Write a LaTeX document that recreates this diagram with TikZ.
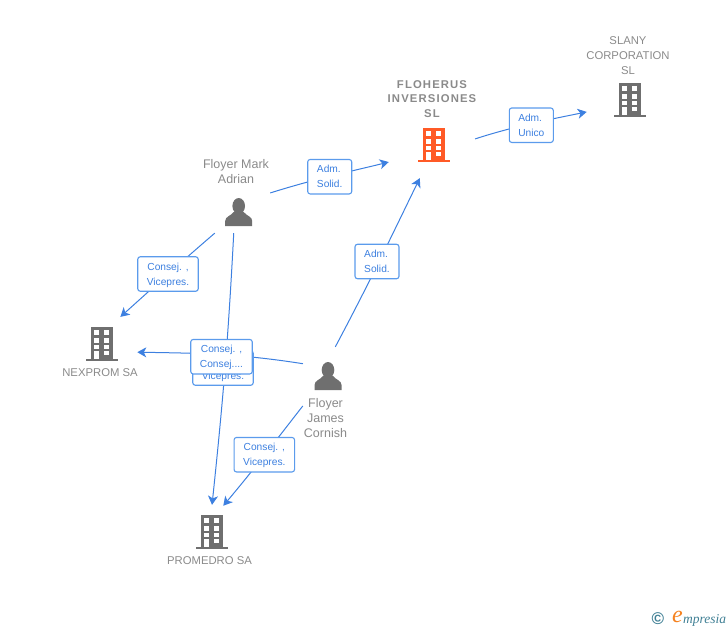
\documentclass[tikz,border=0pt]{standalone}
\usepackage{fontspec}
\setmainfont{Liberation Sans}
\newfontfamily\LabelBold[LetterSpace=10]{Liberation Sans Bold}
\newfontfamily\LogoFont{Liberation Serif}
\usetikzlibrary{arrows.meta}
\definecolor{IconGray}{HTML}{6F6F6F}
\definecolor{IconOrange}{HTML}{FF5A26}
\definecolor{TextGray}{HTML}{8A8A8A}
\definecolor{LinkBlue}{HTML}{3D80E0}
\definecolor{BoxBlue}{HTML}{5B9BEC}
\definecolor{LogoTeal}{HTML}{3F7F94}
\definecolor{LogoOrange}{HTML}{F58220}
\tikzset{
    iconspot/.style={circle,inner sep=0pt,minimum size=40pt},
    link/.style 2 args={draw=LinkBlue,line width=1pt,shorten <=#1pt,shorten >=#2pt,
        -{Stealth[length=9pt,width=10pt,inset=2.5pt]}},
    linkbox/.style={draw=BoxBlue,line width=1.1pt,fill=white,rounded corners=2.5pt,
        minimum height=34.5pt,inner sep=0pt,align=center,text=LinkBlue,text depth=0pt,
        font=\fontsize{10.2}{15}\selectfont},
    wide/.style={minimum width=60.5pt},
    narrow/.style={minimum width=44pt,align=left},
    companytext/.style={text=TextGray,align=center,inner sep=0pt,
        font=\fontsize{11.3}{14.8}\selectfont},
    persontext/.style={text=TextGray,align=center,inner sep=0pt,
        font=\fontsize{12.5}{15}\selectfont},
}
\newcommand\BuildingIcon[4]{%
    \node[iconspot] (#1) at (#2,#3) {};
    \begin{scope}[shift={(#2,#3)}]
        \fill[#4] (-16,15) rectangle (16,17);
        \fill[#4] (-11,-17) rectangle (11,15.5);
        \foreach \wy/\wh in {-13.7/-8.7,-6/-1.3,0.7/5.3} {
            \fill[white] (-7.7,\wy) rectangle (-2.7,\wh);
            \fill[white] (2,\wy) rectangle (7,\wh);
        }
        \fill[white] (-7.7,7) rectangle (-2.7,15); % door
        \fill[white] (2,7) rectangle (7,11);
    \end{scope}
}
\newcommand\PersonIcon[3]{%
    \node[iconspot] (#1) at (#2,#3) {};
    \begin{scope}[shift={(#2,#3)}]
        \fill[IconGray] (0,-6) ellipse [x radius=6.3,y radius=8];
        \fill[IconGray] (-13.5,14) -- (-13.5,9) .. controls (-13.5,4.5) and (-8,4) .. (-5,0)
            -- (5,0) .. controls (8,4) and (13.5,4.5) .. (13.5,9) -- (13.5,14) -- cycle;
    \end{scope}
}

\begin{document}
\begin{tikzpicture}[x=1pt,y=-1pt]
    \useasboundingbox (0,0) rectangle (728,630);
    \BuildingIcon{floherus}{434}{145}{IconOrange}
    \BuildingIcon{slany}{630}{100}{IconGray}
    \BuildingIcon{nexprom}{102}{344}{IconGray}
    \BuildingIcon{promedro}{212}{532}{IconGray}
    \PersonIcon{mark}{238.7}{212}
    \PersonIcon{james}{328}{376}
    % names
    \node[companytext,font=\fontsize{11.3}{14.8}\LabelBold] (floherustext) at (432,99) {FLOHERUS\\INVERSIONES\\SL};
    \node[companytext] (slanytext) at (628,55.5) {SLANY\\CORPORATION\\SL};
    \node[companytext] (nexpromtext) at (100,373) {NEXPROM SA};
    \node[companytext] (promedrotext) at (209.5,561) {PROMEDRO SA};
    \node[persontext] (marktext) at (236,171.5) {Floyer Mark\\Adrian};
    \node[persontext] (jamestext) at (325.5,418) {Floyer\\James\\Cornish};
    % connectors, the boxes go on top
    \draw[link={17.5}{28.6}] (mark.43.3) to[out=17.5,in=194] (floherus.210.7);
    \draw[link={22}{24.8}] (floherus.-2.3) to[out=18,in=191.6] (slany.200.7);
    \draw[link={10.3}{15.9}] (james.83.7) to[out=62,in=244] (floherus.249.4);
    \draw[link={11.7}{13.2}] (mark.222.2) to[out=220.6,in=41.9] (nexprom.65.7);
    \draw[link={1.5}{7}] (mark.256.7) to[out=267,in=84] (promedro.92);
    \draw[link={8.2}{16.7}] (james.147.7) to[out=171,in=-1] (nexprom.-23.6);
    \draw[link={19}{8.9}] (james.228.2) to[out=232,in=50] (promedro.74.8);
    % boxes
    \node[linkbox,narrow] (marktofloherus) at (329.7,176.7) {Adm.\\Solid.};
    \node[linkbox,narrow] (floherustoslany) at (531.3,125.2) {Adm.\\Unico};
    \node[linkbox,narrow] (jamestofloherus) at (377,261.5) {Adm.\\Solid.};
    \node[linkbox,wide] (marktonexprom) at (168,274) {Consej. ,\\Vicepres.};
    \node[linkbox,wide] (marktopromedro) at (223,368) {Consej. ,\\Vicepres.};
    \node[linkbox,wide,minimum width=61.5pt] (jamestonexprom) at (221.5,356.7) {Consej. ,\\Consej....};
    \node[linkbox,wide] (jamestopromedro) at (264.3,454.7) {Consej. ,\\Vicepres.};
    % logo
    \node[inner sep=0pt,text=LogoTeal,font=\fontsize{17}{17}\bfseries] (logomark) at (658,619) {©};
    \node[inner sep=0pt,text=LogoOrange,font=\fontsize{24}{24}\LogoFont\itshape] (logoe) at (677.5,617) {e};
    \node[inner sep=0pt,text=LogoTeal,font=\fontsize{13.5}{13.5}\LogoFont\itshape,anchor=base west] (logotext) at (683,623) {mpresia};
\end{tikzpicture}
\end{document}
